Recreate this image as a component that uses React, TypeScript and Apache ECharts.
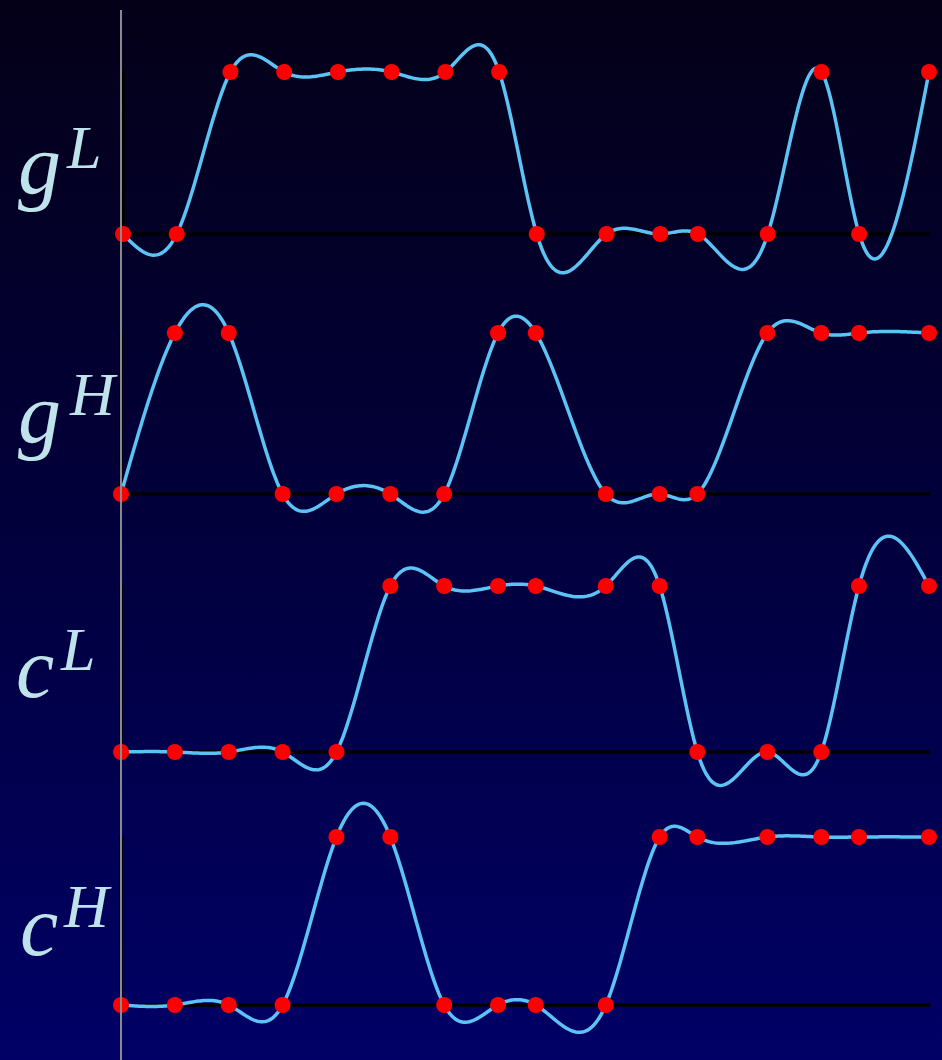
import React, { useEffect, useRef } from "react";
import * as echarts from "echarts";

// time positions of the sampled points
const xValues = [0, 1, 2, 3, 4, 5, 6, 7, 7.7, 9, 10, 10.7, 12, 13, 13.7, 15];

// signal levels (0 = low, 1 = high)
const gL = [0, 0, 1, 1, 1, 1, 1, 1, 0, 0, 0, 0, 0, 1, 0, 1];
const gH = [0, 1, 1, 0, 0, 0, 0, 1, 1, 0, 0, 0, 1, 1, 1, 1];
const cL = [0, 0, 0, 0, 0, 1, 1, 1, 1, 1, 1, 0, 0, 0, 1, 1];
const cH = [0, 0, 0, 0, 1, 1, 0, 0, 0, 0, 1, 1, 1, 1, 1, 1];

const rowBases = ["g", "g", "c", "c"];
const rowSups = ["L", "H", "L", "H"];
const rowValues = [gL, gH, cL, cH];

// layout (pixels)
const rowLeft = [123, 121, 121, 121];
const rowTop = [72, 333, 586, 837];
const rowBottom = [234, 494, 752, 1005];
const baseLabelX = [18, 18, 16, 20];
const baseLabelY = [164, 413, 668, 926];
const supLabelX = [67, 70, 61, 64];
const supLabelY = [147, 394, 649, 906];
const BASE_FS = 86;
const SUP_FS = 62;

const W = 942;
const H = 1060;

// natural cubic spline second derivatives
function splineM(xs: number[], ys: number[]): number[] {
  const n = xs.length;
  const M = new Array(n).fill(0);
  if (n < 3) return M;
  const h: number[] = [];
  for (let i = 0; i < n - 1; i++) h.push(xs[i + 1] - xs[i]);
  const a: number[] = [], b: number[] = [], c: number[] = [], d: number[] = [];
  for (let i = 1; i < n - 1; i++) {
    a.push(h[i - 1]);
    b.push(2 * (h[i - 1] + h[i]));
    c.push(h[i]);
    d.push(6 * ((ys[i + 1] - ys[i]) / h[i] - (ys[i] - ys[i - 1]) / h[i - 1]));
  }
  const m = b.length;
  for (let i = 1; i < m; i++) {
    const w = a[i] / b[i - 1];
    b[i] -= w * c[i - 1];
    d[i] -= w * d[i - 1];
  }
  const sol = new Array(m).fill(0);
  sol[m - 1] = d[m - 1] / b[m - 1];
  for (let i = m - 2; i >= 0; i--) sol[i] = (d[i] - c[i] * sol[i + 1]) / b[i];
  for (let i = 0; i < m; i++) M[i + 1] = sol[i];
  return M;
}

function splineAt(xs: number[], ys: number[], M: number[], i: number, x: number) {
  const h = xs[i + 1] - xs[i];
  const A = xs[i + 1] - x;
  const B = x - xs[i];
  return (
    (M[i] * A * A * A) / (6 * h) +
    (M[i + 1] * B * B * B) / (6 * h) +
    (ys[i] / h - (M[i] * h) / 6) * A +
    (ys[i + 1] / h - (M[i + 1] * h) / 6) * B
  );
}

export default function App() {
  const ref = useRef<HTMLDivElement>(null);

  useEffect(() => {
    if (!ref.current) return;
    const chart = echarts.init(ref.current, undefined, { renderer: "svg" });

    const grids = rowValues.map((_, i) => ({
      left: rowLeft[i],
      right: W - 929,
      top: rowTop[i],
      height: rowBottom[i] - rowTop[i],
    }));

    const axisLineStyle = { color: "#000000", width: 3.5 };
    const xAxes = rowValues.map((_, i) => ({
      type: "value" as const,
      gridIndex: i,
      min: 0,
      max: 15,
      axisLine: { show: true, onZero: false, lineStyle: axisLineStyle },
      axisTick: { show: false },
      axisLabel: { show: false },
      splitLine: { show: false },
    }));

    const yAxes = rowValues.map((_, i) => ({
      type: "value" as const,
      gridIndex: i,
      min: 0,
      max: 1,
      axisLine: { show: true, lineStyle: axisLineStyle },
      axisTick: { show: false },
      axisLabel: { show: false },
      splitLine: { show: false },
    }));

    const series: any[] = [];
    rowValues.forEach((vals, r) => {
      const M = splineM(xValues, vals);
      const data = vals.map((v, j) => [xValues[j], v]);
      series.push({
        type: "custom",
        xAxisIndex: r,
        yAxisIndex: r,
        clip: false,
        z: 2,
        data,
        renderItem: (params: any, api: any) => {
          const i = params.dataIndex;
          if (i >= xValues.length - 1) return null;
          const pts: number[][] = [];
          const steps = 30;
          for (let k = 0; k <= steps; k++) {
            const x = xValues[i] + ((xValues[i + 1] - xValues[i]) * k) / steps;
            pts.push(api.coord([x, splineAt(xValues, vals, M, i, x)]));
          }
          return {
            type: "polyline",
            shape: { points: pts },
            style: { stroke: "#5cc3f5", lineWidth: 3.5, fill: null, lineCap: "round", lineJoin: "round" },
          };
        },
      });
      series.push({
        type: "scatter",
        xAxisIndex: r,
        yAxisIndex: r,
        data,
        symbol: "circle",
        symbolSize: 16,
        itemStyle: { color: "#ff0000", opacity: 1 },
        z: 4,
      });
    });

    const labelTextStyle = (fs: number) => ({
      color: "#bfe3ea",
      fontFamily: "Liberation Serif",
      fontStyle: "italic" as const,
      fontWeight: "normal" as const,
      fontSize: fs,
      lineHeight: fs,
    });

    const titles: any[] = [];
    rowValues.forEach((_, i) => {
      titles.push({
        text: rowBases[i],
        left: baseLabelX[i],
        top: baseLabelY[i] - BASE_FS / 2,
        padding: 0,
        z: 10,
        textStyle: labelTextStyle(BASE_FS),
      });
      titles.push({
        text: rowSups[i],
        left: supLabelX[i],
        top: supLabelY[i] - SUP_FS / 2,
        padding: 0,
        z: 10,
        textStyle: labelTextStyle(SUP_FS),
      });
    });

    chart.setOption({
      animation: false,
      textStyle: { fontFamily: "Liberation Serif" },
      title: titles,
      grid: grids,
      xAxis: xAxes,
      yAxis: yAxes,
      series,
      graphic: [
        {
          type: "line",
          z: 20,
          shape: { x1: 121, y1: 10, x2: 121, y2: H },
          style: { stroke: "#8a8a8a", lineWidth: 2 },
        },
      ],
    });

    return () => chart.dispose();
  }, []);

  return (
    <div
      ref={ref}
      style={{
        position: "fixed",
        left: 0,
        top: 0,
        width: W,
        height: H,
        background: "linear-gradient(to bottom, #040018 0%, #02003c 50%, #000066 100%)",
      }}
    />
  );
}
